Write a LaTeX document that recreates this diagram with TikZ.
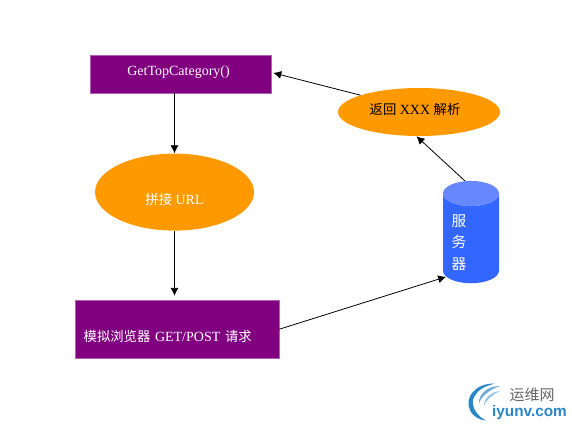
\documentclass[tikz,border=0pt]{standalone}
\usepackage{fontspec}
\setmainfont[Scale=1.05]{Liberation Serif}
\newfontfamily\cjk{Noto Sans CJK SC}
\newfontfamily\logofont{Liberation Sans}
\usepackage{tikz}
\usetikzlibrary{arrows.meta,positioning,shapes.geometric}
\definecolor{ink}{HTML}{000000}
\definecolor{plum}{HTML}{800080}
\definecolor{plumedge}{HTML}{B060B0}
\definecolor{amber}{HTML}{FF9900}
\definecolor{srvbody}{HTML}{3366FF}
\definecolor{srvtop}{HTML}{6688FF}
\definecolor{logoblue}{HTML}{2A86C8}
\definecolor{logogrey}{HTML}{666666}

\begin{document}
\begin{tikzpicture}[
  x=0.75pt,y=-0.75pt,
  font=\fontsize{10}{12}\selectfont,
  procbox/.style={draw=plumedge,line width=0.5pt,fill=plum,text=white,inner sep=0pt},
  blob/.style={ellipse,fill=amber,inner sep=0pt},
  arr/.style={-{Latex[length=6pt,width=6pt]},line width=0.6pt,draw=ink}]

\useasboundingbox (0,0) rectangle (572,429);

\node[procbox,minimum width=135.75pt,minimum height=28.5pt,text depth=5pt] (gettop) at (180.5,74)
      {GetTopCategory()\hspace*{3pt}};
\node[blob,text=white,minimum width=119.25pt,minimum height=57.75pt,text height=19pt,
      below=45pt of gettop,xshift=-4.5pt] (urlblob) {{\cjk 拼接} URL};
\node[procbox,align=left,text width=140pt,inner xsep=6.5pt,minimum height=43.5pt,text height=20pt,
      below=51.75pt of urlblob,xshift=1.9pt] (browser)
      {{\cjk 模拟浏览器} GET/POST {\cjk 请求}};
\node[blob,text=black,minimum width=121.5pt,minimum height=36pt,text depth=5pt] (parse) at (419,112)
      {{\cjk 返回} XXX {\cjk 解析}\hspace*{6pt}};
\coordinate (srvpos) at (471,238.5);
\node[cylinder,x=1cm,y=1cm,shape border rotate=90,aspect=0.65,draw=none,minimum width=42pt,minimum height=75.75pt,
      cylinder uses custom fill,cylinder body fill=srvbody,cylinder end fill=srvtop,text=white,
      align=left,text width=29pt,font=\fontsize{11}{16.2}\cjk,inner sep=0pt] (server) at (srvpos)
      {\rule{0pt}{15pt}服\\务\\器};

\draw[arr] (urlblob.north |- gettop.south) -- (urlblob.north);
\draw[arr,shorten >=3pt] (urlblob.south) -- (urlblob.south |- browser.north);
\draw[arr] (browser.east) -- (server.237);
\draw[arr] (server.96) -- (parse.264);
\draw[arr,shorten >=1.5pt] (parse.164) -- (gettop.1);

% logo
\fill[logoblue] (495,383.5) .. controls (475,383) and (464,398) .. (470,410)
      .. controls (473,417) and (480,420) .. (486,420.5)
      .. controls (477,416) and (472,408) .. (473,400)
      .. controls (476,390) and (485,386) .. (495,383.5);
\fill[logoblue!70] (500,386) .. controls (488,386) and (478,394) .. (479,404)
      .. controls (480,398) and (488,390) .. (500,386);
\fill[logoblue!50] (500,391) .. controls (491,392) and (484,398) .. (484,406)
      .. controls (486,400) and (492,395) .. (500,391);
\node[text=logogrey,font=\fontsize{11.25}{13}\cjk,inner sep=0pt] (logocn) at (532,395) {运维网};
\node[text=logoblue,font=\fontsize{11.5}{13}\logofont\bfseries,inner sep=0pt] (logoen) at (529.5,413) {iyunv.com};
\end{tikzpicture}
\end{document}
